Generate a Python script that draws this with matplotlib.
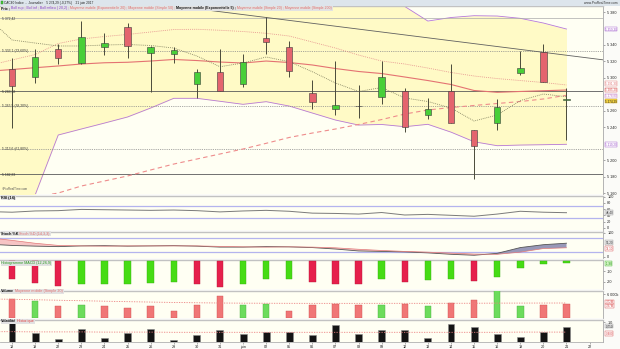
import numpy as np
import matplotlib
matplotlib.use("Agg")
import matplotlib.pyplot as plt
from matplotlib.patches import Rectangle

plt.rcParams["font.family"] = ["Liberation Sans", "DejaVu Sans"]

W, H = 620, 349          # output size in pixels (dpi 100)
PR = 603                 # right edge of the plotting area (px)

# --- data --------------------------------------------------------------------
day_labels = ["18", "19", "22", "23", "24", "25", "26", "29", "30", "31", "juin",
              "02", "05", "06", "07", "08", "09", "12", "13", "14", "15", "16",
              "19", "20", "21", "22"]

opens  = [5310.7, 5300.6, 5335.4, 5317.6, 5337.8, 5361.4, 5329.8, 5328.6, 5292.1, 5307.4,
          5292.1, 5348.8, 5337.8, 5281.2, 5262.5, 5265.9, 5277.0, 5284.3, 5254.8, 5284.3,
          5236.6, 5244.7, 5306.2, 5331.0, 5273.4]
highs  = [5324.1, 5335.0, 5340.7, 5369.4, 5354.1, 5367.0, 5338.7, 5337.8, 5310.7, 5335.0,
          5329.0, 5374.3, 5345.1, 5297.3, 5320.8, 5291.3, 5320.8, 5287.3, 5275.1, 5316.4,
          5236.6, 5274.6, 5333.0, 5340.7, 5287.3]
lows   = [5239.0, 5293.3, 5316.4, 5316.8, 5327.7, 5324.4, 5283.1, 5317.6, 5275.1, 5284.3,
          5289.2, 5329.0, 5300.6, 5261.7, 5254.8, 5251.5, 5267.8, 5234.1, 5249.6, 5244.7,
          5176.6, 5236.6, 5303.1, 5295.3, 5224.4]
closes = [5290.0, 5325.3, 5323.7, 5349.2, 5342.7, 5338.5, 5337.8, 5333.8, 5307.4, 5284.3,
          5319.2, 5343.9, 5308.7, 5270.2, 5266.6, 5265.7, 5300.6, 5240.6, 5262.5, 5244.7,
          5217.5, 5264.2, 5311.6, 5295.3, 5274.29]
prev_close = 5312.0

# overlays: first value is the session before the visible window
boll_up  = [5400, 5400, 5405, 5412, 5420, 5425, 5428, 5430, 5432, 5430, 5428, 5425, 5420,
            5415, 5410, 5403, 5398, 5392, 5386.7, 5369.0, 5373.3, 5375.5, 5375.1, 5372.3,
            5366.6, 5359.3]
boll_low = [5090, 5100, 5157.6, 5230.5, 5237.8, 5245.0, 5252.4, 5263.3, 5275.1, 5275.1,
            5271.5, 5267.8, 5271.0, 5265.7, 5257.2, 5248.7, 5242.6, 5243.3, 5240.6, 5243.5,
            5234.0, 5222.3, 5217.5, 5218.3, 5218.7, 5219.2]
mm20     = [5308.0, 5310.1, 5312.3, 5314.4, 5316.8, 5318.3, 5318.9, 5320.4, 5322.3, 5321.0,
            5319.2, 5318.0, 5320.4, 5318.6, 5315.6, 5311.3, 5307.7, 5305.2, 5301.0, 5296.7,
            5291.9, 5284.6, 5282.4, 5283.4, 5284.3, 5285.2]
mm50     = [5315.0, 5321.7, 5328.3, 5341.7, 5347.2, 5350.2, 5352.7, 5355.7, 5358.7, 5359.0,
            5357.8, 5356.3, 5354.1, 5350.8, 5343.5, 5336.2, 5327.7, 5320.4, 5316.8, 5311.9,
            5306.5, 5302.2, 5299.1, 5296.7, 5294.3, 5291.3]
mme5     = [5372.0, 5346.0, 5342.3, 5338.7, 5338.7, 5339.9, 5340.5, 5339.3, 5336.2, 5326.5,
            5313.5, 5318.0, 5325.3, 5319.6, 5307.4, 5293.7, 5283.4, 5288.2, 5275.5, 5271.2,
            5263.3, 5247.5, 5254.8, 5272.4, 5280.3, 5277.0]
mm200    = [5140.0, 5150.0, 5155.0, 5160.0, 5168.5, 5174.6, 5180.7, 5188.0, 5195.2, 5201.3,
            5207.4, 5213.5, 5220.4, 5227.5, 5232.9, 5237.8, 5243.3, 5249.3, 5256.0, 5260.9,
            5263.9, 5266.4, 5268.8, 5271.2, 5274.3, 5278.8]

# drawn trend line (session index, price)
trend_x = [5.0, 25.6]
trend_p = [5394.5, 5321.8]

# horizontal levels
level_vals   = [5372.42, 5333.1, 5283.38, 5265.5, 5213.6, 5182.83]
level_labels = ["5 372,42", "5 333,1 (23,60%)", "5 283,38", "5 265,5 (38,20%)",
                "5 213,6 (61,80%)", "5 182,83"]
level_kinds  = ["top", "fib", "solid", "fib", "fib", "solid"]
price_ticks  = [5160, 5180, 5200, 5240, 5260, 5300, 5320, 5340, 5380]

rsi     = [52, 50, 54, 55, 59, 58, 57, 56, 57, 55, 51, 54, 56, 53, 47, 46, 44, 49, 41, 43,
           40, 37, 44, 53, 50, 48.4]
stoch_k = [52, 47, 44, 42, 45, 46, 44, 45, 46, 44, 40, 40, 42, 41, 38, 32, 24, 22, 20, 16,
           10, 6, 14, 38, 50, 56.2]
stoch_d = [79, 68, 56, 47, 45, 44, 45, 45, 45, 45, 43, 41, 40, 41, 40, 37, 31, 26, 22, 19,
           15, 11, 10, 19, 34, 37.1]

macd_hist = [-17.7, -21.5, -23.9, -22.5, -22.2, -22.0, -21.0, -20.3, -22.5, -24.8, -22.5,
             -17.7, -17.5, -20.6, -22.5, -22.7, -17.7, -20.0, -18.4, -17.7, -19.0, -15.2,
             -6.5, -2.6, -1.98]
macd_prev = -16.0

volume    = [4.73, 4.30, 2.96, 3.11, 2.96, 2.35, 2.96, 1.70, 3.22, 5.49, 3.22, 3.47, 1.77,
             3.22, 3.54, 3.29, 3.11, 3.37, 2.86, 3.72, 4.38, 6.91, 3.04, 3.22, 3.37]
volume_mm = [4.75, 4.66, 4.55, 4.42, 4.30, 4.18, 4.06, 3.96, 3.86, 3.78, 3.72, 3.68, 3.66,
             3.64, 3.63, 3.63, 3.63, 3.64, 3.64, 3.64, 3.65, 3.66, 3.69, 3.70, 3.71, 3.72]

volat    = [0.95, 0.42, 0.14, 0.62, 0.20, 0.45, 0.62, 0.07, 0.33, 0.58, 0.38, 0.47, 0.47,
            0.33, 0.83, 0.38, 0.58, 0.58, 0.17, 0.90, 0.72, 0.37, 0.22, 0.47, 0.75]
volat_mm = [0.50, 0.50, 0.49, 0.49, 0.49, 0.48, 0.48, 0.48, 0.47, 0.47, 0.47, 0.47, 0.47,
            0.47, 0.47, 0.47, 0.47, 0.47, 0.47, 0.47, 0.47, 0.47, 0.47, 0.48, 0.48, 0.48]

# --- helpers -------------------------------------------------------------------
CREAM = "#fffff3"
YELLOW = "#fffac6"
GREEN, RED = "#48cf38", "#e4646e"
FS = 2.7
TAG_FS = 2.2

x_days = np.arange(len(closes))
x_lead = np.arange(-1, len(closes))
x_ticks = np.arange(len(day_labels))
closes_a = np.array(closes)
up_day = np.diff(np.r_[prev_close, closes_a]) >= 0


def fr(v, nd=2):
    s = f"{v:,.{nd}f}"
    return s.replace(",", " ").replace(".", ",")


fig = plt.figure(figsize=(W / 100, H / 100), dpi=100)
fig.patch.set_facecolor("#fbfbf8")
renderer = fig.canvas.get_renderer()


def panel(top, bottom, ylim):
    ax = fig.add_axes([0, 1 - bottom / H, PR / W, (bottom - top) / H])
    ax.set_facecolor(CREAM)
    ax.set_xlim(-0.52, 25.58)
    ax.set_ylim(*ylim)
    ax.set_xticks([])
    ax.yaxis.tick_right()
    ax.tick_params(axis="y", length=1.5, width=0.4, pad=1.5, labelsize=FS,
                   colors="#666", labelcolor="#222")
    ax.spines["left"].set_visible(False)
    ax.spines["bottom"].set_visible(False)
    ax.spines["top"].set_color("#c2c2c2")
    ax.spines["top"].set_linewidth(1.0)
    ax.spines["right"].set_color("#a8a8a8")
    ax.spines["right"].set_linewidth(0.6)
    return ax


def text_row(x, y, parts, size=FS, box="#e2e2e2"):
    x0 = x
    for s, c, w in parts:
        t = fig.text(x / W, 1 - y / H, s, color=c, fontsize=size, fontweight=w,
                     va="center", ha="left", zorder=4)
        x += t.get_window_extent(renderer).width
    if box:
        fig.patches.append(Rectangle((x0 / W - 0.5 / W, 1 - (y + 2.3) / H),
                                     (x - x0 + 1.5) / W, 4.6 / H,
                                     transform=fig.transFigure, fc=box, ec="none",
                                     zorder=3))
    return x


def tag(ax, v, txt, tc, fc="white", ec=None):
    ax.text(1.004, v, txt, transform=ax.get_yaxis_transform(), fontsize=TAG_FS,
            color=tc, va="center", ha="left", clip_on=False, zorder=6,
            bbox=dict(boxstyle="square,pad=0.1", fc=fc, ec=ec or tc, lw=0.3))


# --- header --------------------------------------------------------------------
fig.patches.append(Rectangle((0, 1 - 5.5 / H), 1, 5.5 / H, transform=fig.transFigure,
                             fc="#dde5ec", ec="none", zorder=2))
fig.patches.append(Rectangle((1 / W, 1 - 4.2 / H), 2 / W, 3 / H, transform=fig.transFigure,
                             fc=GREEN, ec="#2a7a2a", lw=0.3, zorder=3))
text_row(4, 2.7, [("CAC40 Indice  -  Journalier    5 274,29 (-0,27%)    21 juin 2017",
                   "#222", "normal")], size=2.3, box=None)
fig.text(617 / W, 1 - 2.7 / H, "www.ProRealTime.com", fontsize=2.3, color="#333",
         ha="right", va="center", zorder=4)

# --- price panel -----------------------------------------------------------------
ax = panel(5.5, 194, (5158.8, 5387.9))
ax.fill_between(x_lead, boll_low, boll_up, color=YELLOW, lw=0, zorder=1)
ax.plot(x_lead, boll_up, color="#b678d8", lw=0.6, zorder=2)
ax.plot(x_lead, boll_low, color="#b678d8", lw=0.6, zorder=2)

for v, lab, kind in zip(level_vals, level_labels, level_kinds):
    if kind == "fib":
        ax.axhline(v, color="#8a8a8a", lw=0.6, ls=(0, (1, 1.2)), zorder=2)
    elif kind == "solid":
        ax.axhline(v, color="#5a5a5a", lw=0.6, zorder=2)
    else:
        ax.axhline(v, color="#aaaaaa", lw=0.5, zorder=2)
    ax.text(0.003, v, lab, transform=ax.get_yaxis_transform(), fontsize=2.4,
            color="#333", va="center", ha="left", zorder=5)

ax.plot(trend_x, trend_p, color="#606060", lw=0.6, zorder=2)
ax.plot(x_lead, mm200, color="#ee8c8c", lw=0.8, ls=(0, (4, 3)), zorder=2)
ax.plot(x_lead, mm20, color="#e47272", lw=0.8, zorder=2)
ax.plot(x_lead, mm50, color="#e48a8a", lw=0.6, ls=(0, (1, 1.3)), zorder=2)
ax.plot(x_lead, mme5, color="#7a7a5a", lw=0.6, ls=(0, (1, 1.3)), zorder=2)

o, c = np.array(opens), closes_a
ax.vlines(x_days, lows, highs, color="#4a4a3a", lw=0.7, zorder=3)
body_col = np.where(np.abs(c - o) < 0.5, "#333333", np.where(c >= o, GREEN, RED))
ax.bar(x_days, np.maximum(np.abs(c - o), 0.6), bottom=np.minimum(o, c), width=0.28,
       color=body_col, edgecolor="#3a3a3a", linewidth=0.4, zorder=4)

ax.set_yticks(price_ticks)
ax.set_yticklabels([fr(v, 0) for v in price_ticks])
tag(ax, boll_up[-1], fr(boll_up[-1]), "#9a50c8")
tag(ax, mm50[-1] + 1.5, fr(mm50[-1]), "#e07070")
tag(ax, mm20[-1], fr(mm20[-1]), "#d84848")
tag(ax, mm200[-1] - 0.8, fr(mm200[-1]), "#c070c0")
tag(ax, closes[-1] - 2.5, fr(closes[-1]), "#222", fc="#f8d640", ec="#c8a020")
tag(ax, boll_low[-1], fr(boll_low[-1]), "#9a50c8")

text_row(1, 8.3, [("Prix ; ", "#111", "bold"),
                  ("Boll sup ; Boll inf ; Boll milieu ( 20,2) ; ", "#8844cc", "normal"),
                  ("Moyenne mobile (Exponentielle 20) ; Moyenne mobile (Simple 50) ; ",
                   "#e06a6a", "normal"),
                  ("Moyenne mobile (Exponentielle 5) ; ", "#111", "bold"),
                  ("Moyenne mobile (Simple 20) ; Moyenne mobile (Simple 200)", "#e06a6a",
                   "normal")], size=2.5)
ax.text(0.003, 0.015, "©ProRealTime.com", transform=ax.transAxes, fontsize=2.2,
        color="#555", va="bottom", ha="left", zorder=5)

# --- RSI ---------------------------------------------------------------------------
ax = panel(195.5, 230, (-7.4, 103.9))
for lvl in (70, 30):
    ax.axhline(lvl, color="#b4b4ee", lw=0.9, zorder=1)
ax.plot(x_lead, rsi, color="#7a7a7a", lw=0.7, zorder=3)
ax.set_yticks([0, 20, 40, 60, 80, 100])
tag(ax, rsi[-1], fr(rsi[-1], 2), "#333", fc="#e8e8e8", ec="#999")
text_row(1, 197.6, [("RSI (14)", "#111", "bold")])

# --- Stochastic --------------------------------------------------------------------
ax = panel(231.5, 258, (-5.4, 105))
for lvl in (80, 20):
    ax.axhline(lvl, color="#b4b4ee", lw=0.9, zorder=1)
k, d = np.array(stoch_k), np.array(stoch_d)
ax.fill_between(x_lead, k, d, where=k >= d, interpolate=True, color="#9898b8", lw=0, zorder=2)
ax.fill_between(x_lead, k, d, where=k < d, interpolate=True, color="#f6c4c4", lw=0, zorder=2)
ax.plot(x_lead, k, color="#555", lw=0.6, zorder=3)
ax.plot(x_lead, d, color="#e07878", lw=0.5, zorder=3)
ax.set_yticks([0, 100])
tag(ax, k[-1] + 3, fr(k[-1], 2), "#333", fc="#e8e8e8", ec="#999")
tag(ax, d[-1] - 3, fr(d[-1], 2), "#d84848")
text_row(1, 233.6, [("Stoch %K", "#111", "bold"), (" Stoch %D (14,3,3)", "#e06a6a", "normal")])

# --- MACD histogram --------------------------------------------------------------------
ax = panel(259.5, 289, (-27.05, 1.45))
mh = np.array(macd_hist)
mh_up = np.diff(np.r_[macd_prev, mh]) >= 0
ax.bar(x_days, mh, width=0.28, color=np.where(mh_up, "#46dc14", "#e6204c"),
       edgecolor=np.where(mh_up, "#38b010", "#b81838"), linewidth=0.3, zorder=3)
ax.set_yticks([-20, -10])
ax.set_yticklabels(["-20", "-10"])
tag(ax, mh[-1] - 0.4, fr(mh[-1], 2), "#1a8a10", fc="#d8f8c8", ec="#40b030")
text_row(1, 263.2, [("Histogramme MACD (12,26,9)", "#2a9a20", "normal")])

# --- Volume ------------------------------------------------------------------------------
ax = panel(290.5, 318, (-0.08, 6.89))
ax.bar(x_days, volume, width=0.28, color=np.where(up_day, "#6cdc5c", "#f07676"),
       edgecolor=np.where(up_day, "#4cb040", "#d05050"), linewidth=0.3, zorder=3)
ax.plot(x_lead, volume_mm, color="#ec8080", lw=0.6, ls=(0, (1.5, 1.5)), zorder=4)
ax.set_yticks([6])
ax.set_yticklabels(["6 000k"])
tag(ax, volume_mm[-1] + 0.3, fr(volume_mm[-1]) + "M", "#d84848")
tag(ax, volume[-1] - 0.4, fr(volume[-1]) + "M", "#d84848")
text_row(1, 291.3, [("Volume", "#111", "bold"),
                    (" Moyenne mobile (Simple 20)", "#e06a6a", "normal")])

# --- Volatility -------------------------------------------------------------------------
ax = panel(319.5, 342, (-0.015, 1.11))
ax.bar(x_days, volat, width=0.3, color="#141414", edgecolor="#8a8a8a", linewidth=0.4,
       zorder=3)
ax.plot(x_lead, volat_mm, color="#ec8080", lw=0.6, ls=(0, (1.5, 1.5)), zorder=4)
ax.set_yticks([1.0])
ax.set_yticklabels(["1,0"])
tag(ax, volat[-1] + 0.03, fr(volat[-1], 3), "#222", fc="#e8e8e8", ec="#999")
tag(ax, volat_mm[-1] - 0.06, fr(volat_mm[-1], 3), "#d84848")
text_row(1, 321.2, [("Volatilité", "#111", "bold"), (" Historique", "#e04040", "normal")])

ax.set_xticks(x_ticks)
ax.set_xticklabels(day_labels)
ax.tick_params(axis="x", length=1.2, width=0.4, pad=1.0, labelsize=FS, colors="#777",
               labelcolor="#222")
ax.spines["bottom"].set_visible(True)
ax.spines["bottom"].set_color("#b0b0b0")
ax.spines["bottom"].set_linewidth(0.6)

fig.savefig("out.png", dpi=100, facecolor=fig.get_facecolor())
